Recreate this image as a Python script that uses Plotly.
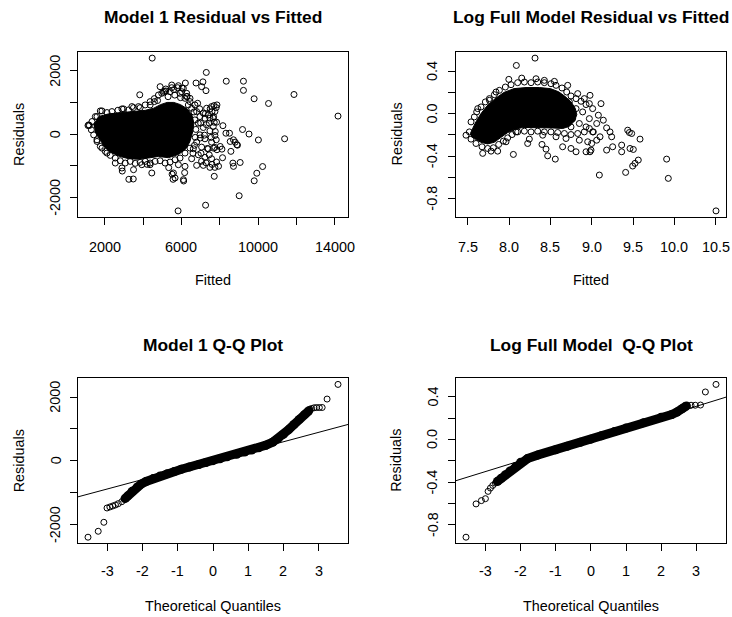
import plotly.graph_objects as go
from statistics import NormalDist

FONT = "Liberation Sans, Arial, Helvetica, sans-serif"
INK = "black"
W, H = 732, 617

# ---------------- Model 1: residuals against fitted values ----------------
m1_fitted = [
    # far points and the thinning right-hand side
    4470, 7297, 8340, 9239, 6203, 6760, 7120, 7053, 7281, 9239, 9796, 10550, 11880, 14180,
    7854, 7817, 8166, 9190, 9530, 10020, 11390, 8510, 8322, 8718, 8895, 8547, 8583, 8114,
    7854, 7937, 7713, 8687, 8718, 9067, 10240, 9937, 9800, 9015, 7260, 5823, 8146, 8927,
    8807, 7765, 7713, 7677, 7593, 7817, 7677, 8025,
    # upper edge of the cloud
    3820, 4580, 5057, 5404, 5803, 5925, 6185, 6359, 6706, 6845, 7314, 7574, 7700, 7748,
    7487, 7227, 7661, 4883, 5178, 5491, 5838, 6098, 6272, 6446, 5109, 5595, 6029, 6290,
    1115, 1151, 1324, 1585, 1845, 2366, 2887, 3408, 3755, 4102, 4362, 4796, 5491,
    1758, 2106, 2678, 2974, 3234, 3494, 3842, 4362, 4588, 4970, 5178, 6012, 6272, 6446,
    1186, 1290, 1411, 1585, 1498, 5300, 5650, 5950, 4750,
    # lower edge of the cloud
    5838, 6185, 5578, 5664, 6099, 4449, 4362, 3928, 3494, 3250, 3480, 2887, 2540, 2106,
    1845, 1585, 2906, 4208, 5333, 5510, 5560, 6114, 6166,
    1758, 2019, 2279, 2540, 2800, 3060, 3321, 3582, 3842, 4102, 4362, 4623, 4883, 5144,
    5404, 5664, 5925, 6185, 6446,
    # scattered band between 6500 and 7800
    6532, 6793, 6966, 7140, 7400, 7661, 7834, 6880, 7140, 7487, 7748, 6966, 7227, 7574,
    6793, 7053, 7400, 7748, 6619, 6880, 7227, 7574, 7834, 6532, 6793, 7140, 7487, 7748,
    6650, 6700, 6750, 6720, 6680, 6600, 6950, 7000, 6980, 7020, 7050, 7250, 7300, 7200,
    7350, 7280, 7500, 7450, 7550, 7450, 7600,
]
m1_resid = [
    2395, 1944, 1668, 1668, 1611, 1611, 1647, 1496, 1370, 1380, 1115, 967, 1250, 570,
    922, 837, 268, 147, 5, -182, -144, 31, 31, -176, -333, -229, -540, -470,
    -489, -1008, -1326, -909, -1013, -890, -1018, -1228, -1467, -1937, -2235, -2414, -740, -345,
    -251, 85, 376, 555, 712, -176, -439, -386,
    1240, 1120, 1318, 1339, 1464, 1287, 1130, 921, 921, 973, 817, 869, 900, 712,
    503, 503, 242, 1496, 1423, 1548, 1527, 1443, 1287, 1130, 1349, 1401, 1453, 1192,
    273, 294, 399, 555, 733, 712, 796, 869, 869, 921, 1025, 1234, 1464,
    733, 681, 754, 796, 764, 837, 837, 921, 1026, 1287, 1360, 1339, 1182, 1026,
    273, 137, -20, -176, 555, 1180, 1230, 1150, 1060,
    -960, -1012, -1221, -1378, -1430, -1221, -960, -960, -1117, -1420, -1410, -1064, -908, -594,
    -438, -228, -1160, -950, -1053, -1260, -1420, -1473, -1210,
    -385, -542, -667, -751, -835, -908, -856, -918, -887, -856, -908, -856, -835, -908,
    -877, -803, -751, -594, -438,
    817, 712, 555, 660, 608, 503, 378, 346, 210, 106, -40, -20, -145, -249,
    -249, -406, -458, -417, -458, -647, -730, -772, -876, -772, -981, -981, -1044, -1044,
    700, 450, 150, -100, -350, -600, 800, 350, -120, -600, -850, 650, 300, -30,
    -450, -900, 800, 350, -100, -650, -950,
]
# outline of the saturated centre of the Model 1 cloud
m1_core_fitted = [1400, 1700, 2192, 2887, 3581, 4102, 4550, 4900, 5250, 5600, 5950, 6300,
                  6550, 6650, 6570, 6430, 6200, 5838, 5317, 4796, 4276, 3755, 3234, 2713,
                  2279, 1932, 1700, 1480]
m1_core_resid = [300, 560, 640, 680, 710, 750, 820, 930, 1000, 1000, 930, 800,
                 600, 346, 33, -250, -480, -640, -740, -700, -750, -790, -770, -690,
                 -560, -360, -120, 80]

# ---------------- Log full model: residuals against fitted values ----------------
log_fitted = [
    # far points
    8.314, 8.088,
    7.997, 8.153, 8.326, 8.427, 8.548, 8.709, 8.830, 8.910, 8.971, 9.011, 7.621, 7.540, 7.520,
    7.762, 7.842,
    7.681, 7.782, 7.862, 8.052, 8.245, 8.225, 8.398, 8.447, 8.467, 8.559, 8.407, 8.084, 7.963,
    8.648, 8.749, 8.810, 8.931, 8.991, 8.951, 8.850, 8.568, 8.689,
    8.729, 8.810, 8.890, 8.971, 8.769, 8.850, 8.931, 8.749, 9.011, 8.689,
    9.112, 8.979, 9.080, 9.140, 9.060, 9.180, 9.221, 9.241, 9.435, 9.455, 9.483, 9.584,
    9.362, 9.362, 9.463, 9.503, 9.253, 9.180, 9.563, 9.523, 9.495, 9.092, 9.410, 9.906,
    9.926, 10.503, 9.019, 9.100, 8.999, 9.060, 8.979, 7.479,
    # upper edge of the arc
    7.580, 7.608, 7.661, 7.713, 7.762, 7.822, 7.883, 7.955, 8.024, 8.104, 8.185, 8.266,
    8.346, 8.427, 8.507, 8.568, 8.640, 8.697, 8.749, 8.810, 8.870, 8.931,
    # lower edge of the arc
    7.540, 7.600, 7.673, 7.741, 7.810, 7.874, 7.931, 7.983, 8.036, 8.104, 8.185, 8.266,
    8.346, 8.427, 8.507, 8.588, 8.669, 8.749, 8.830, 8.910, 8.971,
]
log_resid = [
    0.522, 0.453,
    0.322, 0.334, 0.328, 0.313, 0.303, 0.266, 0.188, 0.141, 0.094, 0.047, 0.047, -0.078, -0.172,
    0.125, 0.203,
    -0.374, -0.353, -0.353, -0.384, -0.240, -0.281, -0.290, -0.334, -0.397, -0.428, -0.203, -0.172, -0.265,
    -0.312, -0.328, -0.359, -0.359, -0.343, -0.265, -0.250, -0.218, -0.234,
    0.110, 0.047, 0.016, -0.047, -0.047, -0.093, -0.125, -0.125, -0.172, -0.078,
    0.094, 0.172, -0.015, -0.062, -0.093, -0.134, -0.172, -0.218, -0.156, -0.178, -0.187, -0.240,
    -0.296, -0.359, -0.328, -0.337, -0.312, -0.343, -0.437, -0.468, -0.493, -0.578, -0.553, -0.428,
    -0.609, -0.915, -0.172, -0.218, -0.281, -0.250, -0.359, -0.203,
    -0.031, 0.016, 0.063, 0.110, 0.141, 0.178, 0.219, 0.250, 0.272, 0.291, 0.297, 0.291,
    0.297, 0.291, 0.281, 0.266, 0.241, 0.203, 0.166, 0.141, 0.116, 0.085,
    -0.240, -0.281, -0.312, -0.328, -0.321, -0.290, -0.259, -0.228, -0.197, -0.172, -0.165, -0.172,
    -0.165, -0.172, -0.172, -0.178, -0.187, -0.197, -0.187, -0.172, -0.140,
]
# outline of the saturated centre of the log-model cloud
log_core_fitted = [7.53, 7.59, 7.66, 7.73, 7.83, 7.94, 8.06, 8.205, 8.366, 8.50, 8.60, 8.68,
                   8.75, 8.80, 8.82, 8.79, 8.73, 8.65, 8.527, 8.407, 8.286, 8.165, 8.064, 7.98,
                   7.90, 7.82, 7.74, 7.66, 7.58, 7.54]
log_core_resid = [-0.19, -0.09, 0.0, 0.07, 0.14, 0.20, 0.235, 0.245, 0.245, 0.235, 0.205, 0.16,
                  0.11, 0.05, -0.01, -0.07, -0.12, -0.14, -0.135, -0.135, -0.13, -0.13, -0.15, -0.18,
                  -0.225, -0.27, -0.285, -0.27, -0.235, -0.215]

# ---------------- Normal Q-Q: Model 1 ----------------
m1_qq_theo = [-3.55, -3.26, -3.10, -3.01, -2.93, -2.85, -2.77, -2.69, -2.59, -2.50,
              2.75, 2.80, 2.87, 2.94, 3.02, 3.10, 3.24, 3.55]
m1_qq_resid = [-2400, -2214, -1932, -1483, -1451, -1420, -1388, -1347, -1284, -1190,
               1620, 1643, 1665, 1673, 1673, 1675, 1940, 2400]
# the densely packed middle of the ordered residuals
m1_qq_dense_theo = [-2.50, -2.42, -2.30, -2.15, -2.05, -1.90, -1.70, -1.50, -1.30, -1.10, -0.90,
                    -0.674, -0.40, -0.20, 0.0, 0.20, 0.40, 0.674, 0.90, 1.10, 1.30, 1.50, 1.70,
                    1.85, 2.00, 2.15, 2.30, 2.45, 2.60, 2.72]
m1_qq_dense_resid = [-1190, -1100, -960, -820, -740, -650, -560, -475, -405, -335, -265,
                     -195, -115, -55, 5, 65, 125, 205, 275, 340, 410, 490, 590,
                     695, 830, 980, 1140, 1300, 1450, 1570]
m1_resid_quartiles = [-195, 205]

# ---------------- Normal Q-Q: log full model ----------------
log_qq_theo = [-3.552, -3.266, -3.114, -3.000, -2.924, -2.857, -2.791, -2.715, -2.660,
               2.71, 2.85, 2.97, 3.12, 3.258, 3.560]
log_qq_resid = [-0.919, -0.606, -0.575, -0.557, -0.488, -0.457, -0.432, -0.410, -0.395,
                0.318, 0.322, 0.322, 0.324, 0.447, 0.518]
log_qq_dense_theo = [-2.66, -2.55, -2.43, -2.30, -2.14, -2.00, -1.80, -1.50, -1.00, -0.674, -0.30,
                     0.0, 0.30, 0.674, 1.00, 1.50, 2.00, 2.30, 2.45, 2.60, 2.72]
log_qq_dense_resid = [-0.395, -0.365, -0.332, -0.296, -0.255, -0.215, -0.180, -0.145, -0.097,
                      -0.064, -0.027, 0.003, 0.035, 0.074, 0.107, 0.158, 0.210, 0.235, 0.258,
                      0.290, 0.316]
log_resid_quartiles = [-0.064, 0.074]

# ---------------- tick marks and labels ----------------
m1_fit_ticks = [2000, 4000, 6000, 8000, 10000, 12000, 14000]
m1_fit_labels = ["2000", "", "6000", "", "10000", "", "14000"]
m1_res_ticks = [-2000, -1000, 0, 1000, 2000]
m1_res_labels = ["-2000", "", "0", "", "2000"]
log_fit_ticks = [7.5, 8.0, 8.5, 9.0, 9.5, 10.0, 10.5]
log_fit_labels = ["7.5", "8.0", "8.5", "9.0", "9.5", "10.0", "10.5"]
log_res_ticks = [-0.8, -0.6, -0.4, -0.2, 0.0, 0.2, 0.4]
log_res_labels = ["-0.8", "", "-0.4", "", "0.0", "", "0.4"]
qq_ticks = [-3, -2, -1, 0, 1, 2, 3]
qq_labels = ["-3", "-2", "-1", "0", "1", "2", "3"]


def padded(*seqs):
    """Data range widened by 4% on each side."""
    vals = [v for s in seqs for v in s]
    lo, hi = min(vals), max(vals)
    d = 0.04 * (hi - lo)
    return [lo - d, hi + d]


def qq_line(quartiles, xr):
    """Line through the first and third quartiles, spanning the x range."""
    z1, z3 = NormalDist().inv_cdf(0.25), NormalDist().inv_cdf(0.75)
    slope = (quartiles[1] - quartiles[0]) / (z3 - z1)
    icpt = quartiles[0] - slope * z1
    return xr, [icpt + slope * v for v in xr]


def px_x(p):
    return p / W


def px_y(p):
    return 1 - p / H


open_marker = dict(symbol="circle-open", size=6, color=INK, line=dict(width=1, color=INK))
band_line = dict(color=INK, width=9)
band_marker = dict(symbol="circle", size=9, color=INK)

fig = go.Figure()

# ---- panel 1: Model 1 residuals vs fitted ----
fig.add_trace(go.Scatter(x=m1_core_fitted, y=m1_core_resid, mode="lines", fill="toself",
                         fillcolor=INK, line=dict(color=INK, width=1), xaxis="x", yaxis="y",
                         hoverinfo="skip"))
fig.add_trace(go.Scatter(x=m1_fitted, y=m1_resid, mode="markers", marker=open_marker,
                         xaxis="x", yaxis="y"))

# ---- panel 2: log model residuals vs fitted ----
fig.add_trace(go.Scatter(x=log_core_fitted, y=log_core_resid, mode="lines", fill="toself",
                         fillcolor=INK, line=dict(color=INK, width=1), xaxis="x2", yaxis="y2",
                         hoverinfo="skip"))
fig.add_trace(go.Scatter(x=log_fitted, y=log_resid, mode="markers", marker=open_marker,
                         xaxis="x2", yaxis="y2"))

# ---- panel 3: Model 1 Q-Q ----
qq1_x = padded(m1_qq_theo, m1_qq_dense_theo)
qq1_y = padded(m1_qq_resid, m1_qq_dense_resid)
lx, ly = qq_line(m1_resid_quartiles, qq1_x)
fig.add_trace(go.Scatter(x=lx, y=ly, mode="lines", line=dict(color=INK, width=1),
                         xaxis="x3", yaxis="y3"))
fig.add_trace(go.Scatter(x=m1_qq_dense_theo, y=m1_qq_dense_resid, mode="lines+markers",
                         line=band_line, marker=band_marker, xaxis="x3", yaxis="y3"))
fig.add_trace(go.Scatter(x=m1_qq_theo, y=m1_qq_resid, mode="markers", marker=open_marker,
                         xaxis="x3", yaxis="y3"))

# ---- panel 4: log model Q-Q ----
qq2_x = padded(log_qq_theo, log_qq_dense_theo)
qq2_y = padded(log_qq_resid, log_qq_dense_resid)
lx, ly = qq_line(log_resid_quartiles, qq2_x)
fig.add_trace(go.Scatter(x=lx, y=ly, mode="lines", line=dict(color=INK, width=1),
                         xaxis="x4", yaxis="y4"))
fig.add_trace(go.Scatter(x=log_qq_dense_theo, y=log_qq_dense_resid, mode="lines+markers",
                         line=band_line, marker=band_marker, xaxis="x4", yaxis="y4"))
fig.add_trace(go.Scatter(x=log_qq_theo, y=log_qq_resid, mode="markers", marker=open_marker,
                         xaxis="x4", yaxis="y4"))


def axis(dom, rng, vals, anchor):
    return dict(domain=dom, range=rng, tickvals=vals, anchor=anchor, showticklabels=False,
                ticks="outside", ticklen=7, tickwidth=1, tickcolor=INK,
                showline=True, linecolor=INK, linewidth=1, mirror=True,
                showgrid=False, zeroline=False)


left_dom = [px_x(78), px_x(348)]
right_dom = [px_x(456), px_x(726)]
top_dom = [px_y(217), px_y(52)]
bottom_dom = [px_y(543.3), px_y(378.3)]

annotations = []


def label(text, x, y, size, angle=0, xref="paper", yref="paper"):
    annotations.append(dict(text=text, x=x, y=y, xref=xref, yref=yref,
                            xanchor="center", yanchor="middle", showarrow=False,
                            textangle=angle, font=dict(family=FONT, size=size, color=INK)))


def tick_labels(xname, yname, xvals, xtext, yvals, ytext, label_row, label_col):
    """Tick labels below the x axis and (rotated) left of the y axis."""
    for v, t in zip(xvals, xtext):
        if t:
            label(t, v, px_y(label_row), 14.4, xref=xname)
    for v, t in zip(yvals, ytext):
        if t:
            label(t, px_x(label_col), v, 14.4, angle=-90, yref=yname)


tick_labels("x", "y", m1_fit_ticks, m1_fit_labels, m1_res_ticks, m1_res_labels, 247, 55)
tick_labels("x2", "y2", log_fit_ticks, log_fit_labels, log_res_ticks, log_res_labels, 247, 432)
tick_labels("x3", "y3", qq_ticks, qq_labels, m1_res_ticks, m1_res_labels, 571, 55.5)
tick_labels("x4", "y4", qq_ticks, qq_labels, log_res_ticks, log_res_labels, 571, 432.5)

label("<b>Model 1 Residual vs Fitted</b>", px_x(213), px_y(17.5), 17.4)
label("<b>Log Full Model Residual vs Fitted</b>", px_x(591), px_y(17.5), 17.4)
label("<b>Model 1 Q-Q Plot</b>", px_x(213), px_y(344.5), 17.4)
label("<b>Log Full Model  Q-Q Plot</b>", px_x(591), px_y(344.5), 17.4)
label("Fitted", px_x(213), px_y(279.5), 14.4)
label("Fitted", px_x(591), px_y(279.5), 14.4)
label("Theoretical Quantiles", px_x(213), px_y(606), 14.4)
label("Theoretical Quantiles", px_x(591), px_y(606), 14.4)
label("Residuals", px_x(18.5), px_y(134.5), 14.4, -90)
label("Residuals", px_x(396), px_y(134.5), 14.4, -90)
label("Residuals", px_x(18.5), px_y(460.8), 14.4, -90)
label("Residuals", px_x(396), px_y(460.8), 14.4, -90)

fig.update_layout(
    width=W, height=H, margin=dict(l=0, r=0, t=0, b=0),
    paper_bgcolor="white", plot_bgcolor="white", showlegend=False,
    xaxis=axis(left_dom, padded(m1_fitted, m1_core_fitted), m1_fit_ticks, "y"),
    yaxis=axis(top_dom, padded(m1_resid, m1_core_resid), m1_res_ticks, "x"),
    xaxis2=axis(right_dom, padded(log_fitted, log_core_fitted), log_fit_ticks, "y2"),
    yaxis2=axis(top_dom, padded(log_resid, log_core_resid), log_res_ticks, "x2"),
    xaxis3=axis(left_dom, qq1_x, qq_ticks, "y3"),
    yaxis3=axis(bottom_dom, qq1_y, m1_res_ticks, "x3"),
    xaxis4=axis(right_dom, qq2_x, qq_ticks, "y4"),
    yaxis4=axis(bottom_dom, qq2_y, log_res_ticks, "x4"),
    annotations=annotations,
)

fig.write_html("out.html")
